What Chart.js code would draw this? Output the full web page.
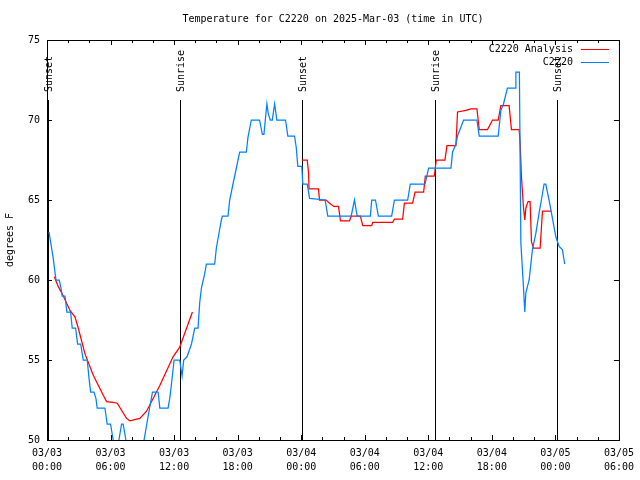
<!DOCTYPE html>
<html>
<head>
<meta charset="utf-8">
<title>Temperature for C2220</title>
<script src="https://cdn.jsdelivr.net/npm/chart.js@4.4.1/dist/chart.umd.min.js"></script>
<style>
  html, body { margin: 0; padding: 0; background: #fff; }
  canvas { display: block; }
</style>
</head>
<body>
<canvas id="tempChart" width="640" height="480"></canvas>
<script>
const titleText = 'Temperature for C2220 on 2025-Mar-03 (time in UTC)';
const yTitle = 'degrees F';

// hours after 03/03 00:00 UTC
const obsHours = [0.19, 0.59, 0.75, 0.85, 1.16, 1.32, 1.44, 1.70, 1.88, 2.23, 2.38, 2.70, 2.89, 3.18, 3.42, 3.80,
  3.96, 4.12, 4.43, 4.62, 4.74, 5.47, 5.68, 6.00, 6.25, 6.41, 6.60, 6.79, 7.04, 7.19, 7.45, 7.68, 8.91, 9.55,
  9.77, 9.96, 10.49, 10.65, 11.43, 11.59, 11.75, 12.00, 12.53, 12.75, 12.91, 13.22, 13.64, 13.95, 14.26, 14.42,
  14.58, 14.89, 15.05, 15.83, 15.99, 16.46, 16.56, 17.09, 17.25, 17.56, 17.88, 18.19, 18.82, 18.97, 19.29, 20.07,
  20.33, 20.48, 20.76, 20.89, 21.08, 21.27, 21.49, 21.70, 22.52, 22.74, 23.37, 23.53, 23.68, 24.06, 24.15, 24.57,
  24.79, 26.26, 26.51, 28.72, 29.03, 29.28, 30.53, 30.66, 31.01, 31.29, 32.54, 32.80, 34.05, 34.30, 35.69, 35.93,
  36.03, 38.14, 38.29, 38.61, 38.76, 39.33, 40.59, 40.81, 42.60, 42.85, 43.10, 43.47, 44.20, 44.27, 44.60, 44.74,
  44.98, 45.11, 45.21, 45.52, 45.83, 46.15, 46.46, 46.68, 46.93, 47.09, 47.40, 47.71, 48.04, 48.35, 48.66, 48.88];
const obsTemps = [63.0, 61.35, 60.5, 60.0, 60.0, 59.5, 59.0, 59.0, 58.0, 58.0, 57.0, 57.0, 56.0, 56.0, 55.0, 55.0,
  53.9, 53.0, 53.0, 52.6, 52.0, 52.0, 51.0, 51.0, 50.0, 49.3, 49.3, 50.0, 51.0, 51.0, 50.0, 49.0, 49.0, 51.5,
  52.3, 53.0, 53.0, 52.0, 52.0, 52.6, 53.5, 55.0, 55.0, 54.0, 55.0, 55.2, 56.0, 57.0, 57.0, 58.6,
  59.5, 60.4, 61.0, 61.0, 62.0, 63.75, 64.0, 64.0, 65.0, 66.0, 67.0, 68.0, 68.0, 68.9, 70.0, 70.0,
  69.1, 69.1, 71.0, 70.4, 70.0, 70.0, 71.0, 70.0, 70.0, 69.0, 69.0, 68.3, 67.1, 67.1, 66.0, 66.0,
  65.1, 65.0, 64.0, 64.0, 65.0, 64.0, 64.0, 65.0, 65.0, 64.0, 64.0, 65.0, 65.0, 66.0, 66.0, 66.7,
  67.0, 67.0, 68.0, 68.5, 69.0, 70.0, 70.0, 69.0, 69.0, 70.6, 71.0, 72.0, 72.0, 73.0, 73.0, 62.3,
  59.6, 58.0, 59.2, 60.0, 61.9, 62.9, 64.2, 65.0, 66.0, 66.0, 65.0, 63.9, 62.7, 62.1, 61.9, 61.0];

const anaHours = [0.69, 1.06, 1.54, 2.17, 2.64, 2.95, 3.58, 4.36, 5.31, 5.63, 6.25, 6.63, 7.51, 7.82, 8.76, 9.40,
  10.65, 11.90, 12.53, 13.73, 18.0,
  24.06, 24.57, 24.69, 24.74, 25.63, 25.73, 26.36, 26.67, 27.08, 27.52, 27.71, 28.56, 28.72, 29.59, 29.81, 30.66,
  30.75, 32.64, 32.80, 33.58, 33.74, 34.52, 34.75, 35.56, 35.72, 36.57, 36.75, 37.57, 37.76, 38.61, 38.76, 39.55,
  40.02, 40.59, 40.81, 41.59, 42.06, 42.60, 42.85, 43.63, 43.85, 44.58, 44.67, 44.79, 44.89, 44.98, 45.11, 45.21,
  45.42, 45.61, 45.74, 45.93, 46.56, 46.78, 47.62];
const anaTemps = [60.2, 59.6, 59.0, 58.1, 57.7, 57.0, 55.4, 54.06, 52.8, 52.4, 52.35, 52.3, 51.35, 51.2, 51.35, 51.8,
  53.4, 55.2, 55.8, 58.0, null,
  67.5, 67.5, 66.7, 65.7, 65.7, 65.0, 65.0, 64.8, 64.6, 64.6, 63.7, 63.7, 64.0, 64.0, 63.4, 63.4,
  63.6, 63.6, 63.8, 63.8, 64.8, 64.8, 65.5, 65.5, 66.5, 66.5, 67.5, 67.5, 68.4, 68.4, 70.5, 70.6,
  70.7, 70.7, 69.4, 69.4, 70.0, 70.0, 70.9, 70.9, 69.4, 69.4, 68.6, 66.5, 65.5, 64.6, 63.75, 64.5,
  64.9, 64.9, 62.4, 62.0, 62.0, 64.3, 64.3];

const sunHours = [0.07, 12.53, 24.08, 36.63, 48.19];
const sunLabels = ['Sunset', 'Sunrise', 'Sunset', 'Sunrise', 'Sunset'];

const xTickDates = ['03/03', '03/03', '03/03', '03/03', '03/04', '03/04', '03/04', '03/04', '03/05', '03/05'];
const xTickTimes = ['00:00', '06:00', '12:00', '18:00', '00:00', '06:00', '12:00', '18:00', '00:00', '06:00'];
const yTicks = [50, 55, 60, 65, 70, 75];

const font = '10px "DejaVu Sans Mono", "Liberation Mono", monospace';

const gnuplotFrame = {
  id: 'gnuplotFrame',
  beforeDatasetsDraw(chart) {
    const { ctx, chartArea: a, scales: { x, y } } = chart;
    ctx.save();
    ctx.strokeStyle = '#000';
    ctx.lineWidth = 1;
    ctx.beginPath();
    // sunrise / sunset markers
    sunHours.forEach(h => {
      const px = Math.round(x.getPixelForValue(h)) + 0.5;
      ctx.moveTo(px, a.top + 60);
      ctx.lineTo(px, a.bottom);
    });
    // x ticks, every 2 h, longer at 6 h
    for (let h = 0; h <= 54; h += 2) {
      const px = Math.round(x.getPixelForValue(h)) + 0.5;
      const len = h % 6 === 0 ? 5 : 3;
      ctx.moveTo(px, a.bottom); ctx.lineTo(px, a.bottom - len);
      ctx.moveTo(px, a.top); ctx.lineTo(px, a.top + len);
    }
    yTicks.forEach(v => {
      const py = Math.round(y.getPixelForValue(v)) + 0.5;
      ctx.moveTo(a.left, py); ctx.lineTo(a.left + 5, py);
      ctx.moveTo(a.right, py); ctx.lineTo(a.right - 5, py);
    });
    ctx.stroke();
    ctx.strokeRect(a.left + 0.5, a.top + 0.5, a.right - a.left, a.bottom - a.top);
    ctx.restore();
  },
  afterDraw(chart) {
    const { ctx, chartArea: a, scales: { x } } = chart;
    ctx.save();
    ctx.font = font;
    ctx.fillStyle = '#000';
    ctx.textBaseline = 'middle';

    ctx.textAlign = 'center';
    ctx.fillText(titleText, (a.left + a.right) / 2, 19);

    ctx.save();
    ctx.translate(10, (a.top + a.bottom) / 2);
    ctx.rotate(-Math.PI / 2);
    ctx.fillText(yTitle, 0, 0);
    ctx.restore();

    ctx.textAlign = 'left';
    sunHours.forEach((h, i) => {
      const px = Math.round(x.getPixelForValue(h)) + 1;
      ctx.save();
      ctx.translate(px, a.top + 52);
      ctx.rotate(-Math.PI / 2);
      ctx.fillText(sunLabels[i], 0, 0);
      ctx.restore();
    });

    // legend
    ctx.textAlign = 'right';
    chart.data.datasets.slice().reverse().forEach((ds, i) => {
      const ly = a.top + 9.5 + i * 13;
      ctx.fillStyle = '#000';
      ctx.fillText(ds.label, a.right - 46, ly);
      ctx.strokeStyle = ds.borderColor;
      ctx.lineWidth = 1;
      ctx.beginPath();
      ctx.moveTo(a.right - 38, ly);
      ctx.lineTo(a.right - 10, ly);
      ctx.stroke();
    });
    ctx.restore();
  }
};

new Chart(document.getElementById('tempChart'), {
  type: 'line',
  data: {
    datasets: [{
      label: 'C2220',
      data: obsHours.map((h, i) => ({ x: h, y: obsTemps[i] })),
      borderColor: '#0080ff',
      borderWidth: 1.25,
      pointRadius: 0,
      tension: 0,
      clip: 0
    }, {
      label: 'C2220 Analysis',
      data: anaHours.map((h, i) => ({ x: h, y: anaTemps[i] })),
      borderColor: '#ff0000',
      borderWidth: 1.25,
      pointRadius: 0,
      tension: 0,
      spanGaps: false,
      clip: 0
    }]
  },
  options: {
    responsive: false,
    animation: false,
    devicePixelRatio: 1,
    layout: { padding: { top: 40, right: 20, left: 0, bottom: 0 } },
    plugins: { legend: { display: false }, tooltip: { enabled: false }, title: { display: false } },
    scales: {
      x: {
        type: 'linear',
        min: 0,
        max: 54,
        afterFit(scale) { scale.height = 40; },
        grid: { display: false, drawTicks: false },
        border: { display: false },
        ticks: {
          stepSize: 6,
          autoSkip: false,
          maxRotation: 0,
          padding: 6,
          color: '#000',
          font: { family: '"DejaVu Sans Mono", monospace', size: 10, lineHeight: 1.4 },
          callback: (v, i) => [xTickDates[i], xTickTimes[i]]
        }
      },
      y: {
        min: 50,
        max: 75,
        afterFit(scale) { scale.width = 47; },
        grid: { display: false, drawTicks: false },
        border: { display: false },
        ticks: {
          stepSize: 5,
          padding: 7,
          color: '#000',
          font: { family: '"DejaVu Sans Mono", monospace', size: 10 }
        }
      }
    }
  },
  plugins: [gnuplotFrame]
});
</script>
</body>
</html>
